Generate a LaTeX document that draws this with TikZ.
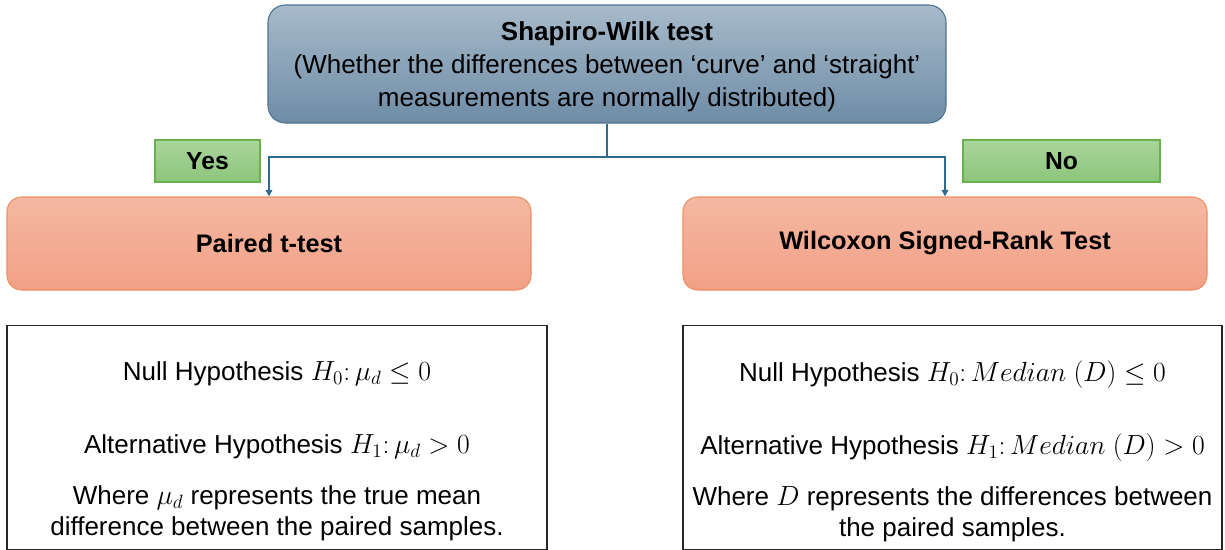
\documentclass[tikz,border=0pt]{standalone}
\usepackage{fontspec}
\setmainfont{Liberation Sans}
\usetikzlibrary{arrows.meta, positioning, calc}
\definecolor{swtop}{HTML}{A7BACA}
\definecolor{swbot}{HTML}{6E8CA6}
\definecolor{swline}{HTML}{4E7390}
\definecolor{tsttop}{HTML}{F5B8A3}
\definecolor{tstbot}{HTML}{F2A085}
\definecolor{tstline}{HTML}{EE8E63}
\definecolor{anstop}{HTML}{A9D59B}
\definecolor{ansbot}{HTML}{8CC57B}
\definecolor{ansline}{HTML}{6AB04C}
\definecolor{link}{HTML}{2F6B8E}
\tikzset{
  rootbox/.style = {rectangle, draw=swline, line width=0.8pt, top color=swtop, bottom color=swbot,
    rounded corners=13pt, minimum width=508.5pt, minimum height=88.5pt},
  roottext/.style = {align=center, font=\fontsize{19.5}{24.6}\selectfont},
  testbox/.style = {rectangle, draw=tstline, line width=0.8pt, top color=tsttop, bottom color=tstbot,
    rounded corners=11pt, minimum width=393pt, minimum height=69.75pt,
    font=\fontsize{19}{22}\selectfont\bfseries},
  ansbox/.style = {rectangle, draw=ansline, line width=0.8pt, top color=anstop, bottom color=ansbot,
    minimum height=31.5pt, font=\fontsize{18.5}{22}\selectfont\bfseries},
  hypbox/.style = {rectangle, draw=black!85, line width=1.2pt, minimum width=405pt, minimum height=168pt},
  hyptext/.style = {align=center, font=\fontsize{19.5}{23.25}\selectfont},
  arrow/.style = {line width=1.2pt, draw=link, -{Triangle[length=5pt,width=5pt]}},
}
\begin{document}
\begin{tikzpicture}[x=0.75pt, y=-0.75pt]
  \useasboundingbox (0,0) rectangle (1225,550);

  % Root test
  \node[rootbox] (sw) at (607,64) {};
  \node[roottext] (swtxt) at ($(sw.center)+(0,3)$) {\textbf{Shapiro-Wilk test}\\(Whether the differences between ‘curve’ and ‘straight’\\measurements are normally distributed)};

  % Branch labels
  \node[ansbox, minimum width=78.75pt] (yes) at (207.5,161) {Yes};
  \node[ansbox, minimum width=147.75pt] (no) at (1061.5,161) {No};

  % Tests
  \node[testbox] (ttest) at (269,243.5) {Paired t-test};
  \node[testbox] (wsr) at (945,243.5) {Wilcoxon Signed-Rank Test};

  % Hypotheses
  \node[hypbox] (hypl) at (277,437.5) {};
  \node[hypbox, minimum width=404.25pt] (hypr) at (952.5,437.5) {};
  \node[hyptext] (txtl) at ($(hypl.center)+(0,14)$) {Null Hypothesis $H_0\colon \mu_d \leq 0$\\[31.5pt]
    Alternative Hypothesis $H_1\colon \mu_d > 0$\\[15pt]
    Where $\mu_d$ represents the true mean\\difference between the paired samples.};
  \node[hyptext] (txtr) at ($(hypr.center)+(0,14)$) {Null Hypothesis $H_0\colon Median\ (D) \leq 0$\\[31.5pt]
    Alternative Hypothesis $H_1\colon Median\ (D) > 0$\\[15pt]
    Where $D$ represents the differences between\\the paired samples.};

  % Connectors
  \coordinate (split) at (607,157);
  \draw[line width=1.2pt, draw=link] (sw.south) -- (split);
  \draw[arrow] (split) -| (ttest.north);
  \draw[arrow] (split) -| (wsr.north);

\end{tikzpicture}
\end{document}
